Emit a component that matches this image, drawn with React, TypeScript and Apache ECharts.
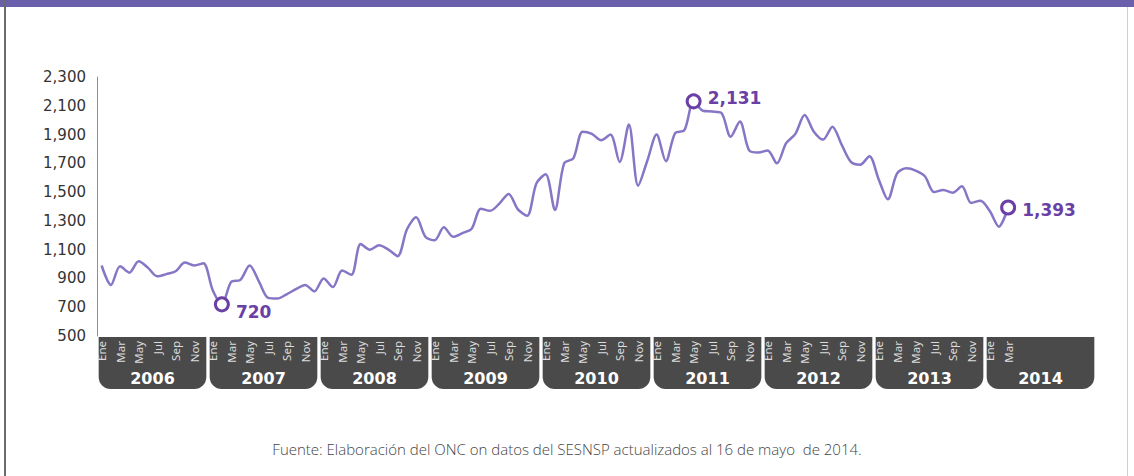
import React, { useEffect, useRef } from "react";
import * as echarts from "echarts";

const monthNames = ["Ene", "Feb", "Mar", "Abr", "May", "Jun", "Jul", "Ago", "Sep", "Oct", "Nov", "Dic"];
const years = ["2006", "2007", "2008", "2009", "2010", "2011", "2012", "2013", "2014"];

const values2006 = [990, 855, 985, 940, 1020, 975, 915, 930, 950, 1010, 990, 1005];
const values2007 = [820, 720, 875, 890, 990, 880, 765, 760, 790, 825, 855, 810];
const values2008 = [900, 840, 955, 925, 1140, 1100, 1130, 1100, 1055, 1240, 1325, 1190];
const values2009 = [1165, 1255, 1190, 1215, 1245, 1385, 1370, 1420, 1487, 1380, 1335, 1560];
const values2010 = [1625, 1376, 1700, 1735, 1920, 1905, 1860, 1900, 1710, 1970, 1545, 1720];
const values2011 = [1900, 1715, 1910, 1930, 2131, 2065, 2060, 2050, 1885, 1990, 1790, 1775];
const values2012 = [1790, 1700, 1840, 1905, 2036, 1920, 1865, 1955, 1830, 1710, 1690, 1750];
const values2013 = [1590, 1450, 1630, 1665, 1650, 1610, 1500, 1515, 1495, 1540, 1425, 1440];
const values2014 = [1370, 1260, 1393];

const highlightIndices = [13, 64, 98];
const highlightOffsets = [[0, 8], [0, -3], [0, 2]];

const yTicks = { min: 500, max: 2300, interval: 200 };

const footer = "Fuente: Elaboración del ONC on datos del SESNSP actualizados al 16 de mayo  de 2014.";

const categories: string[] = [];
years.forEach((y) => monthNames.forEach((m) => categories.push(m + " " + y)));

const values = [
  ...values2006, ...values2007, ...values2008, ...values2009, ...values2010,
  ...values2011, ...values2012, ...values2013, ...values2014,
];

const fmt = (v: number) => v.toLocaleString("en-US");

export default function App() {
  const ref = useRef<HTMLDivElement>(null);
  useEffect(() => {
    if (!ref.current) return;
    const chart = echarts.init(ref.current, null, { renderer: "svg" });
    const lastIndex = values.length - 1;
    const seriesData = values.map((v, i) => {
      const h = highlightIndices.indexOf(i);
      if (h < 0) return v;
      return {
        value: v,
        symbol: "circle",
        symbolSize: 13,
        itemStyle: { color: "#ffffff", borderColor: "#6a3fa6", borderWidth: 3 },
        label: {
          show: true,
          position: "right",
          distance: 6,
          offset: highlightOffsets[h],
          formatter: fmt(v),
          color: "#6a3fa6",
          fontSize: 17,
          fontWeight: 600,
          fontFamily: "DejaVu Sans",
        },
      };
    });
    chart.setOption({
      animation: false,
      title: {
        text: footer,
        left: "center",
        top: 436,
        textStyle: { fontSize: 15, fontWeight: 300, color: "#444", fontFamily: "Open Sans" },
      },
      graphic: [
        { type: "rect", shape: { x: 0, y: 0, width: 1134, height: 7 }, style: { fill: "#6a5fab" } },
        { type: "line", shape: { x1: 5, y1: 0, x2: 5, y2: 476 }, style: { stroke: "#6b6b6b", lineWidth: 2 } },
        { type: "line", shape: { x1: 1127.5, y1: 7, x2: 1127.5, y2: 476 }, style: { stroke: "#cfcfcf", lineWidth: 1 } },
      ],
      grid: [
        { left: 97, right: 38, top: 77, height: 259 },
        { left: 97, right: 38, top: 337, height: 52 },
      ],
      xAxis: [
        {
          type: "category",
          gridIndex: 0,
          data: categories,
          boundaryGap: true,
          z: 10,
          axisLine: { show: false },
          axisTick: { show: false },
          axisLabel: {
            rotate: 90,
            margin: 5,
            interval: (i: number) => i % 2 === 0 && i <= lastIndex,
            formatter: (v: string) => v.split(" ")[0],
            color: "#dcdcdc",
            fontSize: 11.5,
            fontFamily: "Noto Sans",
          },
        },
        {
          type: "category",
          gridIndex: 1,
          data: years,
          show: false,
        },
      ],
      yAxis: [
        {
          type: "value",
          gridIndex: 0,
          min: yTicks.min,
          max: yTicks.max,
          interval: yTicks.interval,
          splitLine: { show: false },
          axisTick: { show: false },
          axisLine: { show: true, lineStyle: { color: "#9b8b80", width: 1 } },
          axisLabel: {
            margin: 11,
            color: "#333",
            fontSize: 15,
            fontFamily: "DejaVu Sans",
            formatter: (v: number) => fmt(v),
          },
        },
        { type: "value", gridIndex: 1, min: 0, max: 1, show: false },
      ],
      series: [
        {
          type: "bar",
          xAxisIndex: 1,
          yAxisIndex: 1,
          data: years.map(() => 1),
          barCategoryGap: "3%",
          itemStyle: { color: "#4a4a4a", borderRadius: [0, 0, 12, 12] },
          label: {
            show: true,
            position: "insideBottom",
            distance: 3,
            formatter: "{b}",
            color: "#ffffff",
            fontSize: 16,
            fontWeight: "bold",
            fontFamily: "DejaVu Sans",
          },
          silent: true,
        },
        {
          type: "line",
          xAxisIndex: 0,
          yAxisIndex: 0,
          data: seriesData,
          smooth: 0.3,
          showSymbol: true,
          symbol: "none",
          z: 5,
          lineStyle: { color: "#8775c6", width: 2.5 },
        },
      ],
    });
    return () => chart.dispose();
  }, []);
  return <div ref={ref} style={{ position: "absolute", left: 0, top: 0, width: 1134, height: 476 }} />;
}
